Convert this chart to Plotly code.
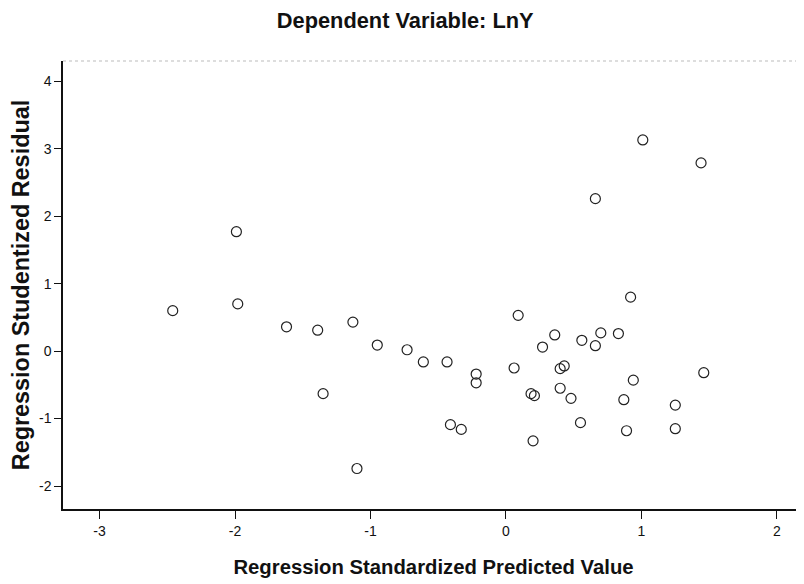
import plotly.graph_objects as go

# Regression Standardized Predicted Value (x) and Studentized Residual (y)
predicted = [-2.46, -1.99, -1.98, -1.62, -1.39, -1.13, -0.95, -1.35, -1.10,
             0.09, -0.73, -0.61, -0.435, -0.22, -0.22, 0.06, 0.27, 0.36,
             0.56, 0.66, 0.70, 0.83, 0.40, 0.43, 0.185, 0.21, 0.40, 0.48,
             0.94, 0.87, 1.46, 1.25, 1.25, 0.89, 0.55, 0.20, -0.41, -0.33,
             1.01, 1.44, 0.66, 0.92]
residual = [0.60, 1.77, 0.70, 0.36, 0.31, 0.43, 0.09, -0.63, -1.74,
            0.53, 0.02, -0.16, -0.16, -0.34, -0.47, -0.25, 0.06, 0.24,
            0.16, 0.08, 0.27, 0.26, -0.26, -0.22, -0.63, -0.66, -0.55, -0.70,
            -0.43, -0.72, -0.32, -0.80, -1.15, -1.18, -1.06, -1.33, -1.09, -1.16,
            3.13, 2.79, 2.26, 0.80]

x_ticks = [-3, -2, -1, 0, 1, 2]
y_ticks = [-2, -1, 0, 1, 2, 3, 4]

fig = go.Figure()
fig.add_trace(go.Scatter(
    x=predicted, y=residual, mode="markers",
    marker=dict(symbol="circle-open", size=10, color="#222222",
                line=dict(width=1.2, color="#222222")),
    showlegend=False,
))

font_family = "Liberation Sans, Arial, sans-serif"

fig.update_layout(
    width=796, height=576,
    margin=dict(l=55, r=0, t=53, b=75, autoexpand=False),
    paper_bgcolor="white", plot_bgcolor="white",
    font=dict(family=font_family, color="#111111"),
    title=dict(text="<b>Dependent Variable: LnY</b>", x=0.499, xanchor="center",
               y=0.979, yanchor="middle", font=dict(size=21.8, color="#111111")),
    xaxis=dict(
        range=[-3.27, 2.20], tickvals=x_ticks, ticktext=[str(v) for v in x_ticks],
        showgrid=False, zeroline=False, automargin=False,
        showline=True, linecolor="#111111", linewidth=1.5,
        ticks="outside", ticklen=8, tickwidth=1.2, tickcolor="#111111",
        tickfont=dict(size=14, color="#111111"),
        title=dict(text="<b>Regression Standardized Predicted Value</b>",
                   font=dict(size=20.3, color="#111111"), standoff=22),
        mirror=False,
    ),
    yaxis=dict(
        range=[-2.34, 4.30], tickvals=y_ticks, ticktext=[str(v) for v in y_ticks],
        showgrid=False, zeroline=False, automargin=False,
        showline=True, linecolor="#111111", linewidth=1.5,
        ticks="outside", ticklen=7, tickwidth=1.2, tickcolor="#111111",
        tickfont=dict(size=14, color="#111111"), ticklabelstandoff=0,
        title=dict(text="<b>Regression Studentized Residual</b>",
                   font=dict(size=23.4, color="#111111"), standoff=3),
    ),
    shapes=[dict(type="line", xref="paper", yref="paper", x0=0, x1=1, y0=1, y1=1,
                 line=dict(color="#bbbbbb", width=1, dash="dot"))],
)

fig.write_html("out.html")
